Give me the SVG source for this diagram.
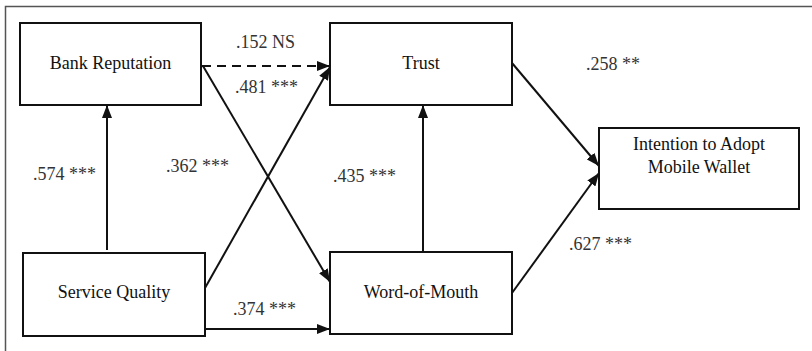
<svg xmlns="http://www.w3.org/2000/svg" width="812" height="351" viewBox="0 0 812 351">
<style>
.box{fill:#fff;stroke:#111;stroke-width:2}
text{font-family:'Liberation Serif','Times New Roman','DejaVu Serif',serif;font-size:18px}
.nt{fill:#111;text-anchor:middle}
.lb{fill:#333}
.c{stroke:#111;stroke-width:2;fill:none;marker-end:url(#ah)}
.d{stroke-dasharray:9,6}
</style>
<defs>
<marker id="ah" markerUnits="userSpaceOnUse" markerWidth="13" markerHeight="10" viewBox="0 0 13 10" refX="13" refY="5" orient="auto">
<path d="M0,0 L13,5 L0,10 z" fill="#111"/>
</marker>
</defs>
<rect x="0" y="0" width="812" height="351" fill="#fff"/>
<path d="M5.5,351 L5.5,6.5 L812,6.5" fill="none" stroke="#555" stroke-width="1.5"/>
<g id="connectors">
<line class="c d" x1="202" y1="66" x2="330" y2="66"/>
<line class="c" x1="203" y1="66" x2="330" y2="282"/>
<line class="c" x1="205" y1="288" x2="330" y2="67"/>
<line class="c" x1="107" y1="250" x2="107" y2="105"/>
<line class="c" x1="205" y1="329" x2="330" y2="329"/>
<line class="c" x1="423" y1="252" x2="423" y2="105"/>
<line class="c" x1="512" y1="63" x2="599" y2="166"/>
<line class="c" x1="512" y1="293" x2="599" y2="173"/>
</g>
<g id="bank-reputation">
<rect class="box" x="20" y="23" width="181" height="82"/>
<text class="nt" x="110.5" y="69">Bank Reputation</text>
</g>
<g id="trust">
<rect class="box" x="330" y="23" width="182" height="82"/>
<text class="nt" x="421" y="69">Trust</text>
</g>
<g id="intention">
<rect class="box" x="599" y="128" width="200" height="81"/>
<text class="nt" x="699" y="150">Intention to Adopt</text>
<text class="nt" x="699" y="173">Mobile Wallet</text>
</g>
<g id="service-quality">
<rect class="box" x="23" y="253" width="182" height="83"/>
<text class="nt" x="114" y="298">Service Quality</text>
</g>
<g id="word-of-mouth">
<rect class="box" x="330" y="252" width="182" height="82"/>
<text class="nt" x="421" y="298">Word-of-Mouth</text>
</g>
<g id="labels">
<text class="lb" x="236" y="48">.152 NS</text>
<text class="lb" x="235" y="93">.481 ***</text>
<text class="lb" x="33" y="180">.574 ***</text>
<text class="lb" x="166" y="172">.362 ***</text>
<text class="lb" x="333" y="182">.435 ***</text>
<text class="lb" x="586" y="70">.258 **</text>
<text class="lb" x="569" y="250">.627 ***</text>
<text class="lb" x="233" y="315">.374 ***</text>
</g>
</svg>
